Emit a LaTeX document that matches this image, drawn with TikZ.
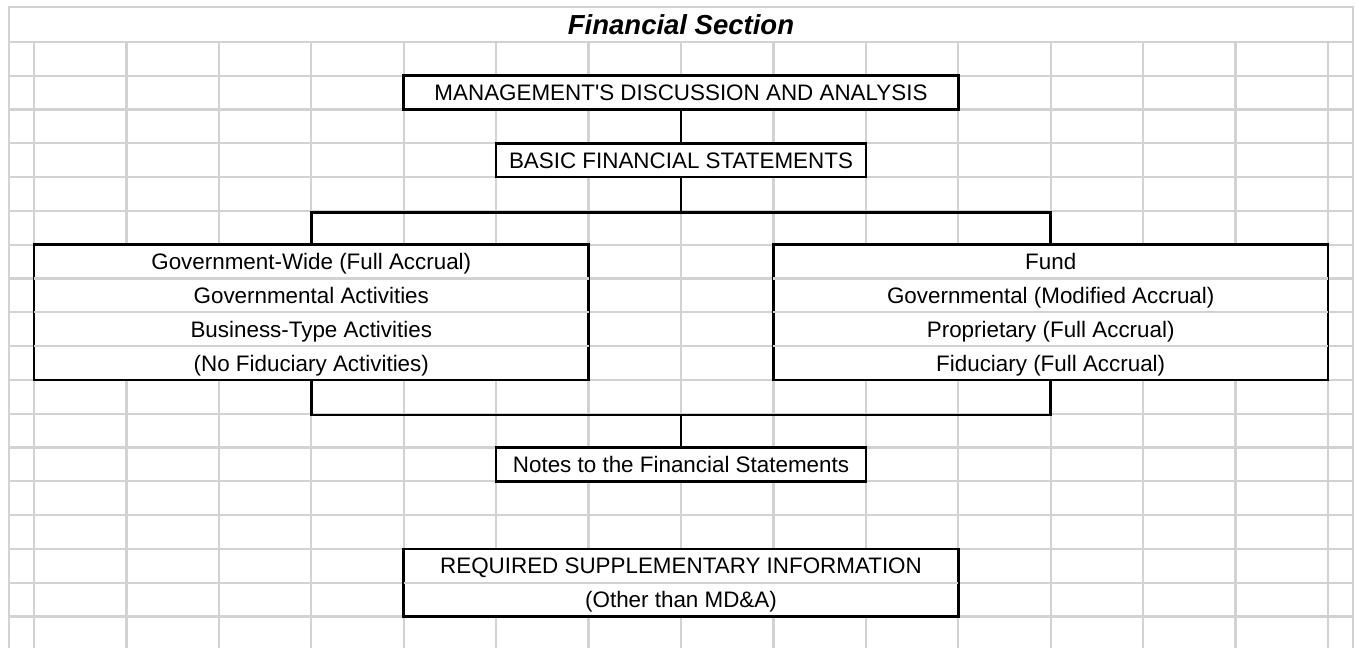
\documentclass[tikz,border=0pt]{standalone}
\usepackage{fontspec}
\setmainfont{Liberation Sans}
\usetikzlibrary{positioning}
\definecolor{gridgray}{RGB}{210,210,210}
\tikzset{
  cellline/.style={draw=gridgray, line width=2.2pt},
  sheetbox/.style={draw=black, line width=2.6pt, fill=white, inner sep=0pt,
    minimum height=33.8pt, text height=15.9pt, text depth=0pt,
    font=\fontsize{22.4}{26}\selectfont},
  celltext/.style={inner sep=0pt, text height=15.9pt, text depth=0pt,
    font=\fontsize{22.4}{26}\selectfont},
  link/.style={draw=black, line width=2.6pt},
}
\begin{document}
\begin{tikzpicture}[x=92.43pt, y=-33.8pt]
\useasboundingbox (-0.3678,-1.2426) rectangle (14.3355,17.929);
% sheet grid
\foreach \c in {0,...,14}
  \draw[cellline] (\c,0) -- (\c,17.929);
\foreach \r in {0,...,17}
  \draw[cellline] (-0.2705,\r) -- (14.27,\r);
\draw[cellline] (-0.2705,17.929) -- (-0.2705,-1.035) -- (14.27,-1.035) -- (14.27,17.929);

\node[font=\fontsize{27.5}{30}\selectfont\bfseries\itshape] (title) at (7,-0.5) {Financial Section};

% boxes
\node[sheetbox, minimum width=554.6pt] (mda) at (7,1.5) {MANAGEMENT\textquotesingle S DISCUSSION AND ANALYSIS};
\node[sheetbox, minimum width=369.7pt] (bfs) at (7,3.5) {BASIC FINANCIAL STATEMENTS};
\node[sheetbox, minimum width=554.6pt, minimum height=135.2pt] (govwide) at (3,8) {};
\node[sheetbox, minimum width=554.6pt, minimum height=135.2pt] (fund) at (11,8) {};
\node[sheetbox, minimum width=369.7pt] (notes) at (7,12.5) {Notes to the Financial Statements};
\node[sheetbox, minimum width=554.6pt, minimum height=67.6pt] (rsi) at (7,16) {};

% rows inside the tall boxes
\foreach \r in {7,8,9} {
  \draw[cellline, shorten <=1.3pt, shorten >=1.3pt] (govwide.west |- 0,\r) -- (govwide.east |- 0,\r);
  \draw[cellline, shorten <=1.3pt, shorten >=1.3pt] (fund.west |- 0,\r) -- (fund.east |- 0,\r);
}
\draw[cellline, shorten <=1.3pt, shorten >=1.3pt] (rsi.west |- 0,16) -- (rsi.east |- 0,16);

\foreach \txt [count=\r] in {{Government-Wide (Full Accrual)}, {Governmental Activities},
    {Business-Type Activities}, {(No Fiduciary Activities)}}
  \node[celltext] (govwide-\r) at (3,5.5+\r) {\txt};
\foreach \txt [count=\r] in {{Fund}, {Governmental (Modified Accrual)},
    {Proprietary (Full Accrual)}, {Fiduciary (Full Accrual)}}
  \node[celltext] (fund-\r) at (11,5.5+\r) {\txt};
\node[celltext] (rsi-1) at (7,15.5) {REQUIRED SUPPLEMENTARY INFORMATION};
\node[celltext] (rsi-2) at (7,16.5) {(Other than MD\&A)};

% connectors
\draw[link] (mda.south) -- (bfs.north);
\draw[link] (bfs.south) -- ++(0,1) -| (govwide.north);
\draw[link] (bfs.south) -- ++(0,1) -| (fund.north);
\draw[link] (govwide.south) -- ++(0,1) -| (notes.north);
\draw[link] (fund.south) -- ++(0,1) -| (notes.north);
\end{tikzpicture}
\end{document}
